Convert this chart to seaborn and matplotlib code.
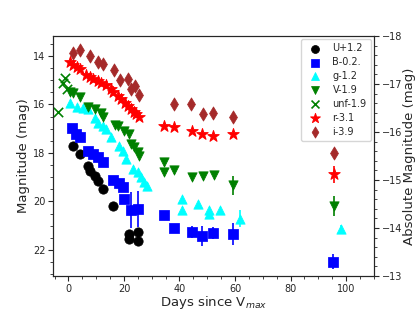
import numpy as np
import pandas as pd
import matplotlib
matplotlib.use('Agg')
import matplotlib.pyplot as plt
import seaborn as sns
from matplotlib.ticker import AutoMinorLocator

# light curve data (days since V max, apparent mag with offsets, errors)
u_days = [1.8, 4.0, 6.9, 7.9, 9.7, 10.8, 12.6, 15.9, 21.7, 21.7, 24.9, 24.9]
u_mag = [17.73, 18.06, 18.55, 18.75, 18.96, 19.16, 19.49, 20.19, 21.34, 21.54, 21.25, 21.62]
u_err = [0, 0, 0, 0, 0, 0, 0, 0, 0.15, 0.15, 0.15, 0.2]

b_days = [1.4, 2.9, 4.3, 7.2, 8.7, 10.5, 12.3, 16.2, 18.1, 19.5, 19.9, 22.4, 24.9,
          34.3, 37.9, 44.4, 48.0, 52.0, 59.2, 95.3]
b_mag = [16.99, 17.2, 17.36, 17.93, 18.06, 18.18, 18.39, 19.12, 19.25, 19.41, 19.9,
         20.35, 20.31, 20.56, 21.09, 21.25, 21.42, 21.3, 21.34, 22.48]
b_err = [0, 0, 0, 0, 0, 0, 0, 0, 0, 0, 0, 0.75, 0.75, 0.15, 0.1, 0.25, 0.4, 0.25, 0.45, 0.3]

g_days = [0.7, 3.2, 5.1, 6.9, 9.7, 10.5, 12.3, 13.4, 15.2, 18.1, 19.5, 20.9, 23.1, 24.9,
          26.0, 27.1, 28.2, 40.8, 40.8, 46.6, 50.5, 50.5, 54.5, 61.7, 98.2]
g_mag = [15.93, 16.09, 16.13, 16.21, 16.58, 16.75, 16.91, 17.03, 17.36, 17.73, 17.93,
         18.26, 18.67, 18.8, 19.0, 19.2, 19.37, 19.9, 20.35, 20.1, 20.35, 20.52, 20.35,
         20.72, 21.13]
g_err = [0] * 23 + [0.35, 0.15]

v_days = [0.4, 1.8, 4.0, 7.2, 9.7, 11.6, 12.6, 16.6, 17.7, 19.9, 21.7, 22.4, 23.8, 24.9,
          25.6, 34.3, 34.3, 37.9, 44.4, 48.4, 52.3, 59.2, 95.7]
v_mag = [15.48, 15.52, 15.68, 16.09, 16.21, 16.34, 16.5, 16.83, 16.91, 17.11, 17.2,
         17.65, 17.77, 17.98, 18.14, 18.39, 18.8, 18.71, 19.0, 18.96, 18.92, 19.33, 20.19]
v_err = [0] * 18 + [0.1, 0.1, 0, 0.4, 0.4]

unf_days = [-3.6, -1.8, -1.1, -0.4]
unf_mag = [16.3, 15.1, 14.9, 15.35]
unf_err = [0, 0, 0, 0]

r_days = [0.7, 1.8, 3.2, 4.3, 6.5, 7.6, 9.0, 10.5, 11.9, 13.4, 15.2, 16.2, 17.7, 18.8,
          20.2, 21.3, 22.4, 23.5, 24.5, 25.3, 34.3, 37.9, 44.4, 48.0, 52.0, 59.2, 95.7]
r_mag = [14.25, 14.37, 14.45, 14.53, 14.78, 14.86, 14.94, 15.02, 15.1, 15.19, 15.35,
         15.48, 15.64, 15.76, 15.93, 16.05, 16.17, 16.3, 16.38, 16.5, 16.91, 16.95,
         17.11, 17.2, 17.32, 17.24, 18.88]
r_err = [0] * 26 + [0.35]

i_days = [1.8, 4.0, 7.8, 10.5, 12.6, 16.5, 18.4, 21.3, 22.4, 24.0, 25.5, 37.9, 44.2,
          48.4, 52.0, 59.3, 95.7]
i_mag = [13.9, 13.75, 14.0, 14.25, 14.35, 14.6, 15.0, 14.95, 15.35, 15.25, 15.6, 16.0,
         16.0, 16.4, 16.35, 16.5, 18.0]
i_err = [0] * 16 + [0.1]

bands = [
    ('U+1.2', u_days, u_mag, u_err, 'o', 'black'),
    ('B-0.2.', b_days, b_mag, b_err, 's', 'blue'),
    ('g-1.2', g_days, g_mag, g_err, '^', 'cyan'),
    ('V-1.9', v_days, v_mag, v_err, 'v', 'green'),
    ('unf-1.9', unf_days, unf_mag, unf_err, 'x', 'green'),
    ('r-3.1', r_days, r_mag, r_err, '*', 'red'),
    ('i-3.9', i_days, i_mag, i_err, 'd', 'brown'),
]

sns.set_style('ticks')
plt.rcParams['font.family'] = ['DejaVu Sans']

fig = plt.figure(figsize=(4.15, 3.11), dpi=100)
ax = fig.add_axes([0.128, 0.1125, 0.773, 0.772])

for name, days, mag, err, mk, col in bands:
    df = pd.DataFrame({'day': days, 'mag': mag, 'err': err})
    ax.errorbar(df['day'], df['mag'], yerr=df['err'], fmt='none', ecolor=col,
                elinewidth=1.2, zorder=1)
    size = 75 if mk == '*' else 45
    kw = dict(edgecolor=col) if mk != 'x' else dict(linewidth=1.2)
    sns.scatterplot(data=df, x='day', y='mag', marker=mk, color=col, s=size,
                    label=name, ax=ax, zorder=2, **kw)

ax.set_xlim(-5.5, 110)
ax.set_ylim(23.07, 13.18)
ax.xaxis.set_minor_locator(AutoMinorLocator(4))
ax.yaxis.set_minor_locator(AutoMinorLocator(4))
ax.tick_params(labelsize=7, pad=2, length=3.5)
ax.tick_params(which='minor', length=2)
ax.set_xlabel('Days since V$_{max}$', fontsize=9.5, labelpad=0)
ax.set_ylabel('Magnitude (mag)', fontsize=9.5, labelpad=2)
ax.legend(loc='upper right', fontsize=7, markerscale=0.85, handletextpad=0.8,
          borderpad=0.45, labelspacing=0.4, borderaxespad=0.3)

ax2 = ax.twinx()
ax2.set_ylim(-13, -18)
ax2.yaxis.set_minor_locator(AutoMinorLocator(5))
ax2.tick_params(labelsize=7, pad=2, length=3.5)
ax2.tick_params(which='minor', length=2)
ax2.set_ylabel('Absolute Magnitude (mag)', fontsize=9.5, labelpad=1)

fig.savefig('out.png', dpi=100)
